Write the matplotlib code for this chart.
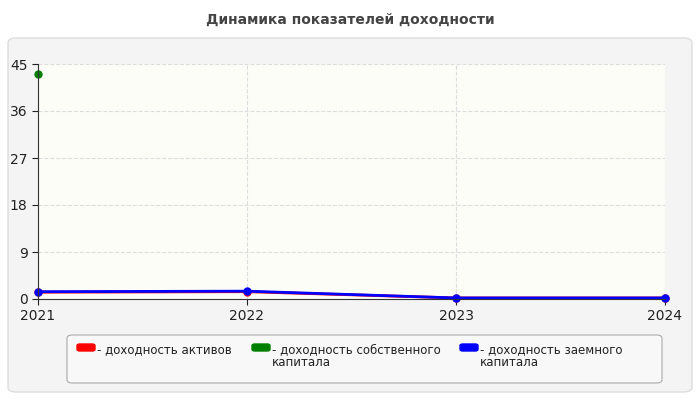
import matplotlib.pyplot as plt
from matplotlib.patches import FancyBboxPatch
import numpy as np

years = [2021, 2022, 2023, 2024]
assets = [1.3, 1.4, 0.2, 0.2]
equity = [43.0, None, None, None]
borrowed = [1.4, 1.5, 0.2, 0.2]
labels = ["- доходность активов", "- доходность собственного\nкапитала",
          "- доходность заемного\nкапитала"]
colors = ["#ff0000", "#008000", "#0000ff"]

fig = plt.figure(figsize=(7, 4), dpi=100)
fig.patch.set_facecolor("white")
fig.patches.append(FancyBboxPatch((8 / 700, 8 / 400), 684 / 700, 354 / 400,
                                  boxstyle="round,pad=0,rounding_size=0.012",
                                  transform=fig.transFigure, facecolor="#f4f4f4",
                                  edgecolor="#dddddd", lw=1, zorder=-10))
fig.text(0.5, 1 - 20 / 400, "Динамика показателей доходности", ha="center", va="center",
         fontsize=10, fontweight="bold", color="#444444")

ax = fig.add_axes([38 / 700, 1 - 299 / 400, 627 / 700, 235 / 400])
ax.set_zorder(5)
ax.set_facecolor("#fdfdf8")
x = np.arange(len(years))
ax.plot(x, assets, color=colors[0], lw=2, marker="o", ms=5, clip_on=False)
ax.plot([0], [equity[0]], color=colors[1], marker="o", ms=5, ls="none", clip_on=False)
ax.plot(x, borrowed, color=colors[2], lw=2, marker="o", ms=5, clip_on=False)
ax.set_xlim(0, 3)
ax.set_ylim(0, 45)
ax.set_yticks(range(0, 46, 9))
ax.set_xticks(x, [str(y) for y in years])
ax.grid(True, ls="--", color="#dddddd", lw=0.8)
for s in ["top", "right"]:
    ax.spines[s].set_visible(False)
ax.spines["left"].set_color("#333333")
ax.spines["bottom"].set_color("#333333")
ax.tick_params(labelsize=10, colors="#222222", length=4)

fig.patches.append(FancyBboxPatch((67 / 700, 17 / 400), 595 / 700, 48 / 400,
                                  boxstyle="round,pad=0,rounding_size=0.008",
                                  transform=fig.transFigure, facecolor="#f8f8f8",
                                  edgecolor="#aaaaaa", lw=0.8, zorder=-5))
lx = [77, 252, 460]
for px, lab, c in zip(lx, labels, colors):
    fig.patches.append(FancyBboxPatch((px / 700, 1 - 351 / 400), 18 / 700, 7 / 400,
                                      boxstyle="round,pad=0,rounding_size=0.004",
                                      transform=fig.transFigure, facecolor=c,
                                      edgecolor=c, zorder=-4))
    fig.text((px + 20) / 700, 1 - 343 / 400, lab, ha="left", va="top",
             fontsize=8.5, color="#222222", linespacing=0.95)

fig.savefig("out.png", dpi=100)
